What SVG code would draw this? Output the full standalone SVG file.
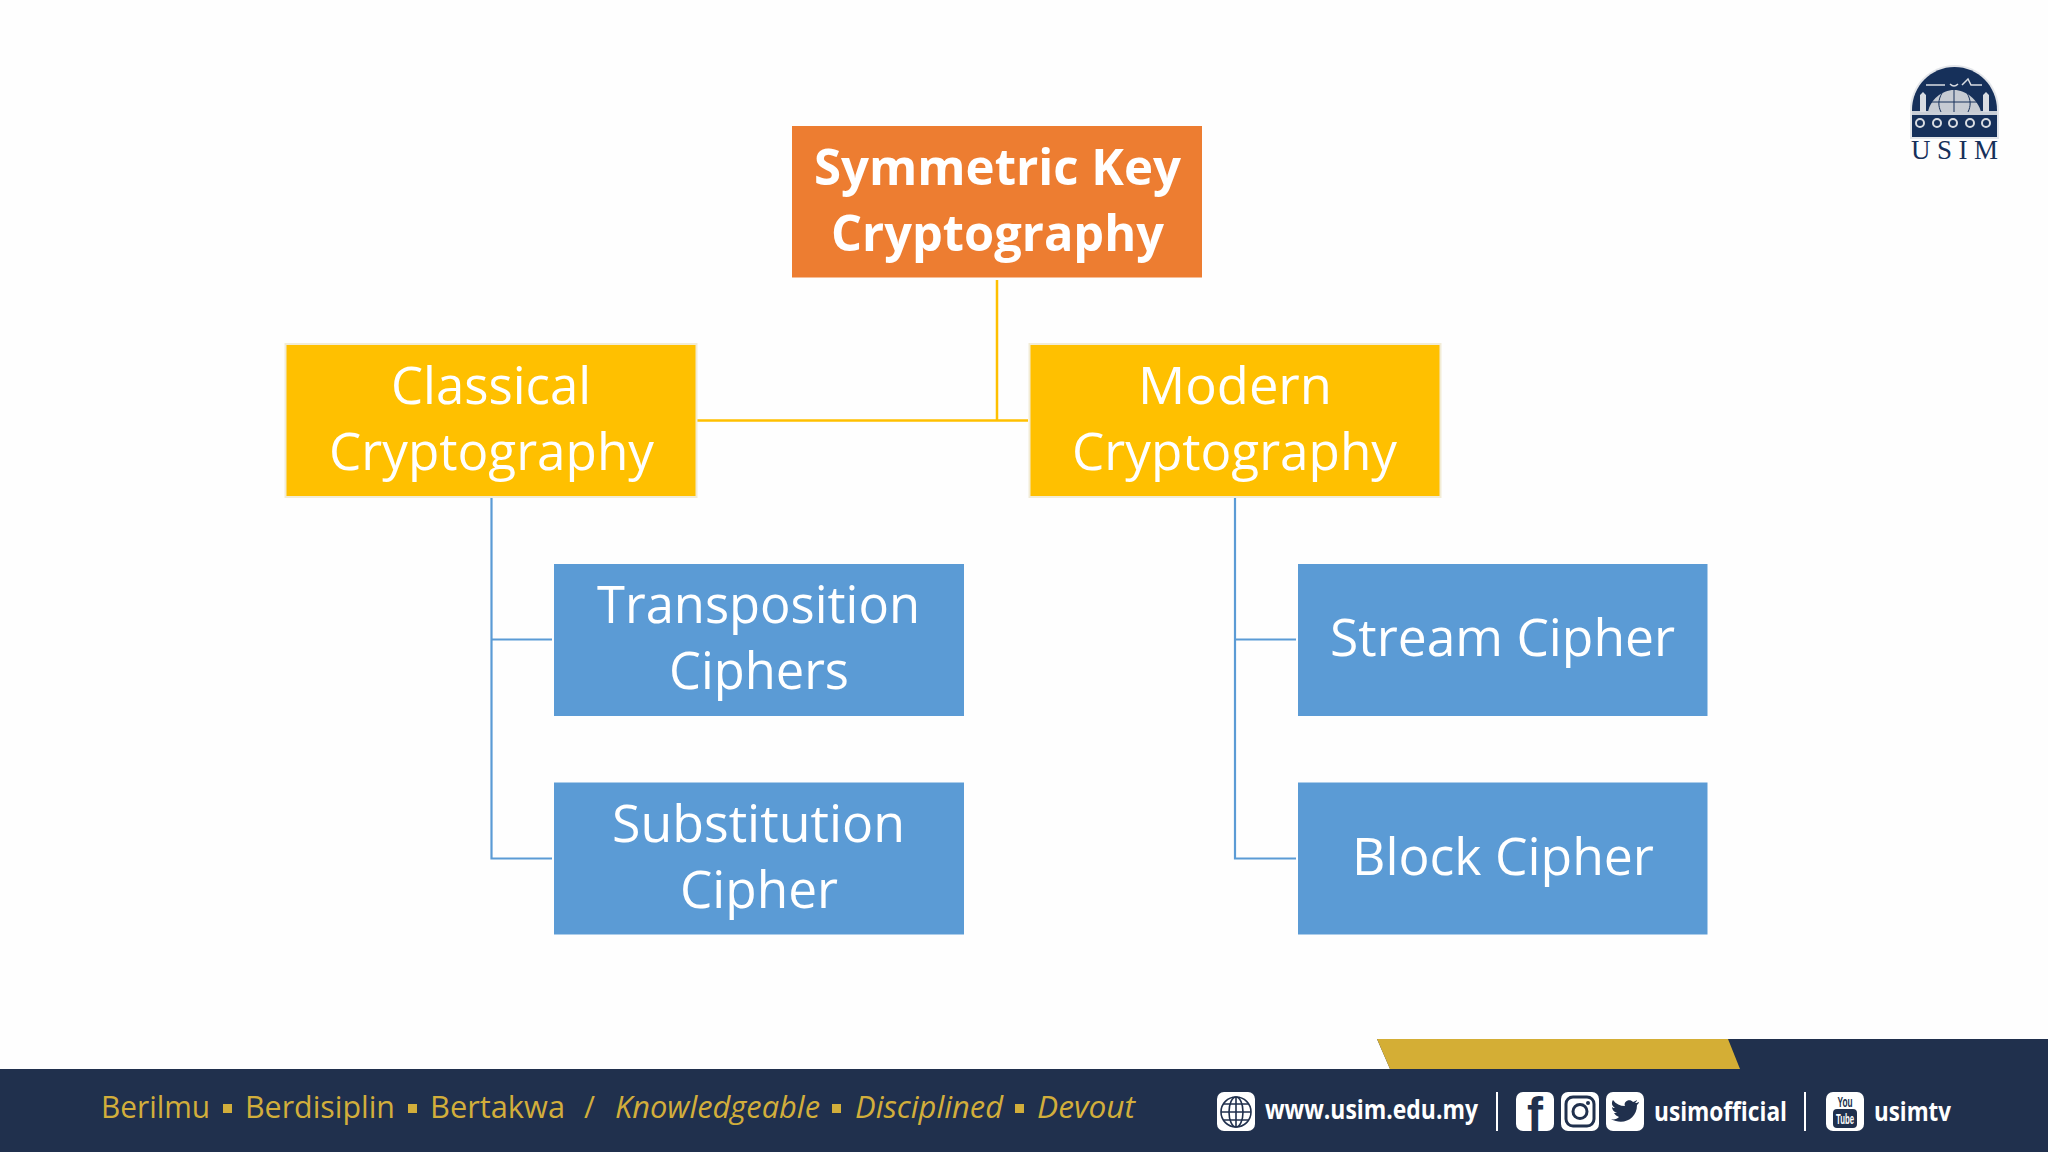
<svg xmlns="http://www.w3.org/2000/svg" width="2048" height="1152" viewBox="0 0 2048 1152">
<style>
.t{font-family:"Open Sans","Liberation Sans",sans-serif;font-size:51px;fill:#fff;text-anchor:start}
.b{font-weight:700}
.root{fill:#ED7D31}
.y{fill:#FFC000;stroke:#F2ECD6;stroke-width:2}
.bl{fill:#5B9BD5}
.cy{fill:none;stroke:#FFC000;stroke-width:2.500}
.cb{fill:none;stroke:#5B9BD5;stroke-width:2.200}
.foot{font-family:"Open Sans","Liberation Sans",sans-serif;font-size:31px;fill:#D2AE3B}
.soc{font-family:"Open Sans","Liberation Sans",sans-serif;font-size:27px;font-weight:700;fill:#fff}
.ico{fill:#fff}
.nv{fill:#20304D}
.nvl{fill:none;stroke:#20304D}
.sq{fill:#D2AE3B}
.div{stroke:#fff;stroke-width:2}
</style>
<rect width="2048" height="1152" fill="#FEFEFE"/>
<g id="connectors">
<path class="cy" d="M997 280V420.500M697 420.500H1028"/>
<path class="cb" d="M491.500 498V858.500H552M491.500 639.500H552"/>
<path class="cb" d="M1235 498V858.500H1296M1235 639.500H1296"/>
</g>
<g id="root"><rect class="root" x="792" y="126" width="410" height="151.500"/>
<text class="t b" x="814" y="185" textLength="367" lengthAdjust="spacingAndGlyphs">Symmetric Key</text>
<text class="t b" x="831" y="251" textLength="333" lengthAdjust="spacingAndGlyphs">Cryptography</text></g>
<g id="classical"><rect class="y" x="285.500" y="344" width="411" height="153"/>
<text class="t" x="391" y="404" textLength="200" lengthAdjust="spacingAndGlyphs">Classical</text>
<text class="t" x="329" y="470" textLength="325" lengthAdjust="spacingAndGlyphs">Cryptography</text></g>
<g id="modern"><rect class="y" x="1029.500" y="344" width="411" height="153"/>
<text class="t" x="1138" y="404" textLength="194" lengthAdjust="spacingAndGlyphs">Modern</text>
<text class="t" x="1072" y="470" textLength="325" lengthAdjust="spacingAndGlyphs">Cryptography</text></g>
<g id="transposition"><rect class="bl" x="554" y="564" width="410" height="152"/>
<text class="t" x="597" y="623" textLength="323" lengthAdjust="spacingAndGlyphs">Transposition</text>
<text class="t" x="669" y="689" textLength="180" lengthAdjust="spacingAndGlyphs">Ciphers</text></g>
<g id="substitution"><rect class="bl" x="554" y="782.500" width="410" height="152"/>
<text class="t" x="612" y="842" textLength="293" lengthAdjust="spacingAndGlyphs">Substitution</text>
<text class="t" x="680" y="908" textLength="158" lengthAdjust="spacingAndGlyphs">Cipher</text></g>
<g id="stream"><rect class="bl" x="1298" y="564" width="409.500" height="152"/>
<text class="t" x="1330" y="656" textLength="345" lengthAdjust="spacingAndGlyphs">Stream Cipher</text></g>
<g id="block"><rect class="bl" x="1298" y="782.500" width="409.500" height="152"/>
<text class="t" x="1352" y="875" textLength="302" lengthAdjust="spacingAndGlyphs">Block Cipher</text></g>
<g id="logo">
<path d="M1910 139V110C1910 85 1930 65 1954.500 65S1999 85 1999 110V139Z" fill="#E4E6EA"/>
<path d="M1912 137V110C1912 86 1931 67 1954.500 67S1997 86 1997 110V137Z" fill="#16305A"/>
<rect x="1912" y="111" width="85" height="4" fill="#C9CED6"/>
<path d="M1928 112C1930 100 1942 90 1954 90S1978 100 1981 112Z" fill="#C6CBD3"/>
<path fill="none" stroke="#16305A" stroke-width="1" d="M1954 90V112M1942 93C1938 100 1938 106 1941 112M1967 93C1971 100 1971 106 1968 112M1930 102H1978"/>
<path d="M1920 112V95L1923 92L1926 95V112ZM1983 112V95L1986 92L1989 95V112Z" fill="#D9DCE2"/>
<path d="M1926 85H1945M1950 84C1953 87 1956 86 1958 84M1962 85L1968 79L1971 85H1982" fill="none" stroke="#D9DCE2" stroke-width="1.500"/>
<g fill="none" stroke="#D9DCE2" stroke-width="2"><circle cx="1920" cy="123" r="4"/><circle cx="1937" cy="123" r="4"/><circle cx="1953" cy="123" r="4"/><circle cx="1970" cy="123" r="4"/><circle cx="1986" cy="123" r="4"/></g>
<text x="1911" y="159" font-family="'Liberation Serif',serif" font-size="27" fill="#16305A" textLength="87" lengthAdjust="spacing">USIM</text>
</g>
<g id="footer">
<path class="nv" d="M0 1069H1390L1377 1039H2048V1152H0Z"/>
<path d="M1377 1039H1728L1740 1069H1390Z" fill="#D4AE35"/>
<text class="foot" y="1118" x="101" textLength="109" lengthAdjust="spacingAndGlyphs">Berilmu</text>
<rect class="sq" x="223" y="1104" width="9" height="9"/>
<text class="foot" y="1118" x="245" textLength="150" lengthAdjust="spacingAndGlyphs">Berdisiplin</text>
<rect class="sq" x="408" y="1104" width="9" height="9"/>
<text class="foot" y="1118" x="430" textLength="135" lengthAdjust="spacingAndGlyphs">Bertakwa</text>
<text class="foot" y="1118" x="584" textLength="11" lengthAdjust="spacingAndGlyphs">/</text>
<text class="foot" y="1118" x="615" font-style="italic" textLength="205" lengthAdjust="spacingAndGlyphs">Knowledgeable</text>
<rect class="sq" x="832" y="1104" width="9" height="9"/>
<text class="foot" y="1118" x="855" font-style="italic" textLength="148" lengthAdjust="spacingAndGlyphs">Disciplined</text>
<rect class="sq" x="1015" y="1104" width="9" height="9"/>
<text class="foot" y="1118" x="1037" font-style="italic" textLength="98" lengthAdjust="spacingAndGlyphs">Devout</text>
<g id="web"><rect class="ico" x="1217" y="1092" width="38" height="39" rx="7"/>
<g class="nvl" stroke-width="1.600"><circle cx="1236" cy="1112" r="15"/><ellipse cx="1236" cy="1112" rx="7" ry="15"/><path d="M1236 1097V1127M1221 1112H1251M1223.500 1104H1248.500M1223.500 1120H1248.500"/></g></g>
<text class="soc" x="1265" y="1119" textLength="213" lengthAdjust="spacingAndGlyphs">www.usim.edu.my</text>
<path class="div" d="M1497 1092V1131M1805 1092V1131"/>
<g id="facebook"><rect class="ico" x="1516" y="1092" width="38" height="39" rx="7"/>
<text x="1527" y="1131" font-family="'Liberation Sans',sans-serif" font-weight="700" font-size="48" fill="#20304D">f</text></g>
<g id="instagram"><rect class="ico" x="1561" y="1092" width="38" height="39" rx="7"/>
<rect class="nvl" stroke-width="3" x="1566" y="1097" width="28" height="29" rx="7"/><circle class="nvl" stroke-width="3" cx="1580" cy="1111.500" r="7"/><circle class="nv" cx="1588" cy="1103" r="2"/></g>
<g id="twitter"><rect class="ico" x="1606" y="1092" width="38" height="39" rx="7"/>
<path class="nv" d="M1639 1102C1637 1103 1636 1103 1635 1103C1636 1102 1637 1101 1637 1100C1636 1101 1635 1101 1633 1102C1630 1098 1623 1101 1625 1106C1620 1106 1616 1104 1613 1100C1611 1103 1612 1106 1615 1108C1614 1108 1613 1108 1612 1107C1612 1110 1614 1112 1617 1113H1614C1615 1115 1617 1116 1619 1117C1617 1119 1614 1120 1611 1119C1623 1126 1637 1119 1637 1105C1638 1104 1639 1103 1639 1102Z"/></g>
<text class="soc" x="1654" y="1121" textLength="133" lengthAdjust="spacingAndGlyphs">usimofficial</text>
<g id="youtube"><rect class="ico" x="1826" y="1092" width="38" height="39" rx="7"/>
<text x="1845" y="1107" text-anchor="middle" font-family="'Liberation Sans',sans-serif" font-weight="700" font-size="14" fill="#20304D" textLength="15" lengthAdjust="spacingAndGlyphs">You</text>
<rect class="nv" x="1833" y="1109" width="24" height="19" rx="4"/>
<text x="1845" y="1124" text-anchor="middle" font-family="'Liberation Sans',sans-serif" font-weight="700" font-size="14" fill="#fff" textLength="18" lengthAdjust="spacingAndGlyphs">Tube</text></g>
<text class="soc" x="1874" y="1121" textLength="77" lengthAdjust="spacingAndGlyphs">usimtv</text>
</g>
</svg>
